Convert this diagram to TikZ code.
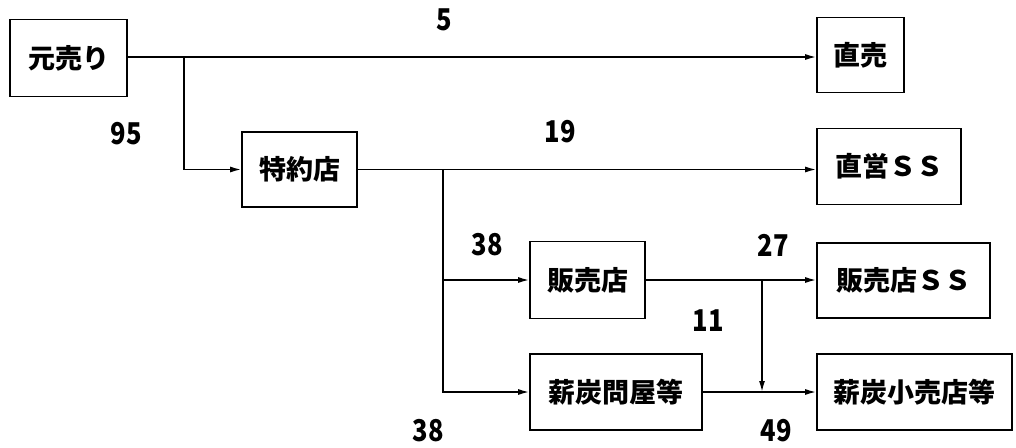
\documentclass[tikz,border=0pt]{standalone}
\usepackage{fontspec}
\setmainfont{Noto Sans CJK JP}
\usetikzlibrary{arrows.meta}
\tikzset{
  box/.style={draw, line width=1.6pt, inner sep=0pt, font=\fontsize{27}{30}\selectfont\bfseries},
  arr/.style={line width=1.6pt, -{Latex[length=11pt,width=6pt]}},
  num/.style={inner sep=0pt, font=\fontsize{30}{32}\selectfont\bfseries}
}
\newcommand{\nm}[1]{\scalebox{0.85}[1]{#1}}
\begin{document}
\begin{tikzpicture}[x=1pt,y=-1pt]
\useasboundingbox (0,0) rectangle (1016,447);
\node[box, minimum width=117pt, minimum height=77pt] (gen) at (68.5,58) {元売り};
\node[box, minimum width=87pt, minimum height=75pt] (choku) at (860.5,55) {直売};
\node[box, minimum width=115pt, minimum height=75pt] (toku) at (299.5,169.5) {特約店};
\node[box, minimum width=144pt, minimum height=76pt] (chokuei) at (889,166.5) {直営ＳＳ};
\node[box, minimum width=115pt, minimum height=77pt] (hanbai) at (587.5,280) {販売店};
\node[box, minimum width=173pt, minimum height=75pt] (hanbaiss) at (903.5,280.5) {販売店ＳＳ};
\node[box, minimum width=172pt, minimum height=76pt] (shintan) at (616,392) {薪炭問屋等};
\node[box, minimum width=195pt, minimum height=76pt] (shintanko) at (914.5,392) {薪炭小売店等};

\coordinate (j1) at (184,57);
\coordinate (j2) at (443,169.5);
\coordinate (j3) at (762,280);

\draw[arr] (gen.east |- j1) -- (j1 -| choku.west);
\draw[arr] (j1) |- (toku.west);
\draw[arr] (toku.east) -- (toku.east -| chokuei.west);
\draw[arr] (j2) |- (hanbai.west);
\draw[arr] (j2) |- (shintan.west);
\draw[arr] (hanbai.east) -- (hanbai.east -| hanbaiss.west);
\draw[arr] (j3) -- (j3 |- shintan.east);
\draw[arr] (shintan.east) -- (shintanko.west);

\node[num] (n5) at (444,20) {\nm{5}};
\node[num] (n95) at (126,134) {\nm{95}};
\node[num] (n19) at (560,132) {\nm{19}};
\node[num] (n38a) at (487,245) {\nm{38}};
\node[num] (n27) at (773,245) {\nm{27}};
\node[num] (n11) at (708,321) {\nm{11}};
\node[num] (n38b) at (428,431) {\nm{38}};
\node[num] (n49) at (776,431) {\nm{49}};
\end{tikzpicture}
\end{document}
